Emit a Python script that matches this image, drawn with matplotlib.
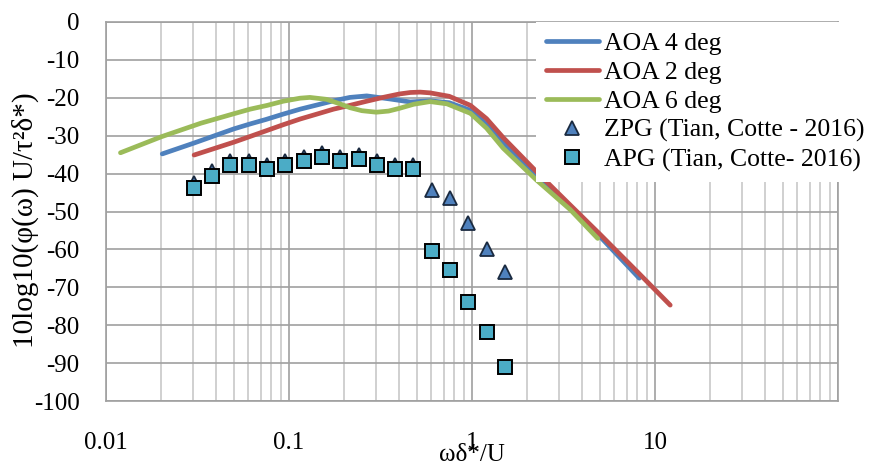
import numpy as np
import matplotlib
matplotlib.use("Agg")
import matplotlib.pyplot as plt
import matplotlib.ticker as ticker

plt.rcParams['font.family'] = ['Liberation Serif', 'DejaVu Serif']
plt.rcParams['axes.unicode_minus'] = False

# simulated spectra, 10log10(phi U / tau^2 delta*) vs omega delta*/U
aoa4_x = [0.0203, 0.03, 0.05, 0.0613, 0.075, 0.093, 0.115, 0.142, 0.175, 0.215, 0.266, 0.355, 0.46,
          0.59, 0.75, 0.98, 1.2, 1.48, 2.25, 3.44, 5.0, 8.2]
aoa4_y = [-34.8, -32.0, -28.2, -26.9, -25.7, -24.3, -23.0, -21.9, -20.8, -19.9, -19.5, -20.3, -21.1,
          -20.8, -21.3, -23.3, -27.0, -31.8, -40.8, -49.0, -56.6, -67.6]

aoa2_x = [0.0303, 0.05, 0.0613, 0.075, 0.093, 0.115, 0.142, 0.175, 0.215, 0.266, 0.326, 0.40, 0.46,
          0.52, 0.59, 0.75, 0.98, 1.2, 1.48, 2.25, 3.44, 5.0, 8.0, 12.1]
aoa2_y = [-35.1, -31.7, -30.2, -28.7, -27.1, -25.6, -24.3, -23.0, -22.0, -20.9, -19.9, -19.0, -18.6,
          -18.5, -18.7, -19.6, -22.0, -25.5, -30.5, -39.5, -48.3, -56.0, -65.9, -74.7]

aoa6_x = [0.012, 0.02, 0.033, 0.05, 0.0613, 0.076, 0.093, 0.115, 0.13, 0.16, 0.19, 0.215, 0.25, 0.30,
          0.35, 0.40, 0.48, 0.59, 0.73, 0.98, 1.2, 1.48, 2.25, 3.44, 4.86]
aoa6_y = [-34.5, -30.3, -26.7, -24.2, -23.0, -22.0, -20.9, -20.1, -19.9, -20.4, -21.6, -22.6, -23.4, -23.8,
          -23.5, -22.8, -21.7, -21.0, -21.6, -24.1, -28.0, -33.3, -41.7, -49.5, -57.1]

# measurements (Tian & Cotte 2016)
zpg_x = [0.0304, 0.038, 0.0477, 0.0606, 0.0759, 0.0953, 0.121, 0.152, 0.190, 0.242, 0.303, 0.380, 0.474,
         0.602, 0.758, 0.955, 1.21, 1.52]
zpg_y = [-42.6, -39.3, -36.6, -36.6, -37.6, -36.6, -35.6, -34.6, -35.6, -35.0, -36.6, -37.6, -37.6,
         -44.4, -46.5, -53.0, -60.0, -66.0]

apg_x = [0.0304, 0.038, 0.0477, 0.0606, 0.0759, 0.0953, 0.121, 0.152, 0.190, 0.242, 0.303, 0.380, 0.474,
         0.602, 0.758, 0.955, 1.21, 1.52]
apg_y = [-43.7, -40.6, -37.7, -37.7, -38.7, -37.7, -36.7, -35.7, -36.7, -36.1, -37.7, -38.7, -38.7,
         -60.3, -65.4, -73.8, -81.9, -90.9]

fig = plt.figure(figsize=(8.73, 4.65), dpi=100)
ax = fig.add_axes([0.1214, 0.1376, 0.8386, 0.8151])

ax.plot(aoa4_x, aoa4_y, color='#4F81BD', lw=3.4, solid_capstyle='round', label='AOA 4 deg', zorder=3)
ax.plot(aoa2_x, aoa2_y, color='#C0504D', lw=3.4, solid_capstyle='round', label='AOA 2 deg', zorder=3)
ax.plot(aoa6_x, aoa6_y, color='#9BBB59', lw=3.4, solid_capstyle='round', label='AOA 6 deg', zorder=3)
ax.plot(zpg_x, zpg_y, '^', ms=10, mfc='#4F81BD', mec='#1a2a40', mew=1.3, ls='none',
        label='ZPG (Tian, Cotte - 2016)', zorder=4)
ax.plot(apg_x, apg_y, 's', ms=10, mfc='#4BACC6', mec='black', mew=1.4, ls='none',
        label='APG (Tian, Cotte- 2016)', zorder=5)

ax.set_xscale('log')
ax.set_xlim(0.01, 100)
ax.set_ylim(-100, 0)
ax.set_xticks([0.01, 0.1, 1, 10, 100])
ax.set_xticklabels(['0.01', '0.1', '1', '10', ''])
ax.xaxis.set_minor_locator(ticker.LogLocator(base=10, subs=np.arange(2, 10)))
ax.xaxis.set_minor_formatter(ticker.NullFormatter())
ax.set_yticks(np.arange(-100, 1, 10))

ax.grid(True, which='major', color='#a0a0a0', lw=1.2, zorder=0)
ax.grid(True, which='minor', axis='x', color='#c4c4c4', lw=1.1, zorder=0)
ax.set_axisbelow(True)
for s in ax.spines.values():
    s.set_color('#a0a0a0')
    s.set_linewidth(1.2)

ax.tick_params(axis='both', which='both', length=0, labelsize=18)
ax.tick_params(axis='x', pad=22)
ax.tick_params(axis='y', pad=19)

ax.set_ylabel('10log10(φ(ω) U/τ²δ*)', fontsize=21, va='center')
ax.yaxis.set_label_coords(-0.1107, 0.477)
ax.set_xlabel('ωδ*/U', fontsize=18, va='center')
ax.xaxis.set_label_coords(0.5, -0.142)

leg = ax.legend(loc='upper left', bbox_to_anchor=(0.587, 1.0), borderaxespad=0, fontsize=18.5,
                frameon=True, fancybox=False, framealpha=1, edgecolor='none',
                handlelength=2.06, handletextpad=0.18, labelspacing=0.23, borderpad=0.4,
                numpoints=1)
leg.get_frame().set_linewidth(0)

fig.savefig('out.png', dpi=100)
